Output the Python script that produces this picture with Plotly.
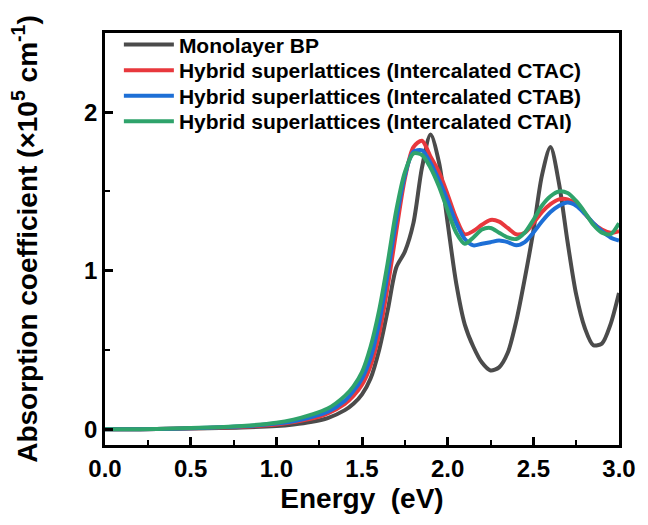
import plotly.graph_objects as go

energy = [0.0, 0.2, 0.4, 0.6, 0.8, 1.0, 1.1, 1.2, 1.3, 1.4, 1.45, 1.5, 1.55, 1.6, 1.65, 1.7, 1.75, 1.8,
          1.85, 1.9, 1.95, 2.0, 2.05, 2.1, 2.15, 2.2, 2.25, 2.3, 2.35, 2.4, 2.45, 2.5, 2.55, 2.6, 2.65,
          2.7, 2.75, 2.8, 2.85, 2.9, 2.95, 3.0]

monolayer = [0.0, 0.0, 0.002, 0.005, 0.01, 0.02, 0.03, 0.045, 0.07, 0.12, 0.16, 0.22, 0.32, 0.5, 0.75,
             1.02, 1.12, 1.3, 1.65, 1.86, 1.68, 1.3, 0.92, 0.66, 0.52, 0.42, 0.37, 0.39, 0.48, 0.68, 0.95,
             1.25, 1.6, 1.78, 1.55, 1.18, 0.85, 0.64, 0.53, 0.54, 0.66, 0.86]

ctac = [0.0, 0.0, 0.003, 0.008, 0.015, 0.03, 0.045, 0.065, 0.1, 0.16, 0.21, 0.28, 0.4, 0.6, 0.9,
        1.25, 1.58, 1.78, 1.82, 1.72, 1.62, 1.48, 1.33, 1.23, 1.25, 1.29, 1.32, 1.31, 1.27, 1.23, 1.24,
        1.30, 1.37, 1.42, 1.45, 1.45, 1.42, 1.36, 1.30, 1.26, 1.24, 1.25]

ctab = [0.0, 0.0, 0.003, 0.009, 0.018, 0.035, 0.05, 0.075, 0.11, 0.18, 0.24, 0.32, 0.45, 0.67, 0.98,
        1.32, 1.6, 1.75, 1.76, 1.68, 1.57, 1.44, 1.30, 1.2, 1.16, 1.17, 1.18, 1.19, 1.18, 1.16, 1.18,
        1.24, 1.31, 1.37, 1.41, 1.43, 1.41, 1.36, 1.30, 1.25, 1.21, 1.19]

ctai = [0.0, 0.0, 0.004, 0.01, 0.02, 0.04, 0.06, 0.09, 0.13, 0.21, 0.27, 0.36, 0.52, 0.75, 1.05,
        1.38, 1.62, 1.74, 1.73, 1.65, 1.53, 1.38, 1.24, 1.17, 1.21, 1.26, 1.27, 1.24, 1.21, 1.2, 1.24,
        1.32, 1.41, 1.47, 1.5, 1.49, 1.44, 1.37, 1.29, 1.24, 1.23, 1.30]

names = ["Monolayer BP",
         "Hybrid superlattices (Intercalated CTAC)",
         "Hybrid superlattices (Intercalated CTAB)",
         "Hybrid superlattices (Intercalated CTAI)"]
colors = ["#4b4b4b", "#e8383d", "#1d6fd6", "#2fa36b"]
series = [monolayer, ctac, ctab, ctai]
legend_ids = ["legend", "legend2", "legend3", "legend4"]
legend_y = [0.971, 0.909, 0.847, 0.785]

font_family = "Liberation Sans, Arial, sans-serif"

fig = go.Figure()
for name, col, ys, lid in zip(names, colors, series, legend_ids):
    fig.add_trace(go.Scatter(x=energy, y=ys, mode="lines", name=name, legend=lid,
                             line=dict(color=col, width=4, shape="spline", smoothing=0.8)))

axis_common = dict(showline=True, linecolor="black", linewidth=2.5, mirror=True,
                   ticks="inside", ticklen=8, tickwidth=2.5, tickcolor="black",
                   showgrid=False, zeroline=False,
                   tickfont=dict(family=font_family, size=24, color="black", weight="bold"))

fig.update_xaxes(range=[0, 3.0], dtick=0.5, tickformat=".1f",
                 minor=dict(ticks="inside", ticklen=5, tickwidth=2, tickcolor="black", dtick=0.25),
                 title=dict(text="Energy  (eV)", standoff=8,
                            font=dict(family=font_family, size=28, color="black", weight="bold")),
                 **axis_common)
fig.update_yaxes(range=[-0.1, 2.5], dtick=1,
                 minor=dict(ticks="inside", ticklen=5, tickwidth=2, tickcolor="black", dtick=0.5),
                 title=dict(text="Absorption coefficient (×10<sup>5</sup> cm<sup>-1</sup>)", standoff=39,
                            font=dict(family=font_family, size=28, color="black", weight="bold")),
                 **axis_common)

legend_style = dict(x=0.027, xanchor="left", yanchor="middle", bgcolor="rgba(0,0,0,0)",
                    font=dict(family=font_family, size=21, color="black", weight="bold"),
                    itemwidth=50)
layout_legends = {lid: dict(y=ly, **legend_style) for lid, ly in zip(legend_ids, legend_y)}

fig.update_layout(
    width=648, height=525,
    margin=dict(l=105, r=24, t=33, b=80),
    plot_bgcolor="white", paper_bgcolor="white",
    showlegend=True,
    **layout_legends,
)

fig.write_html("out.html")
